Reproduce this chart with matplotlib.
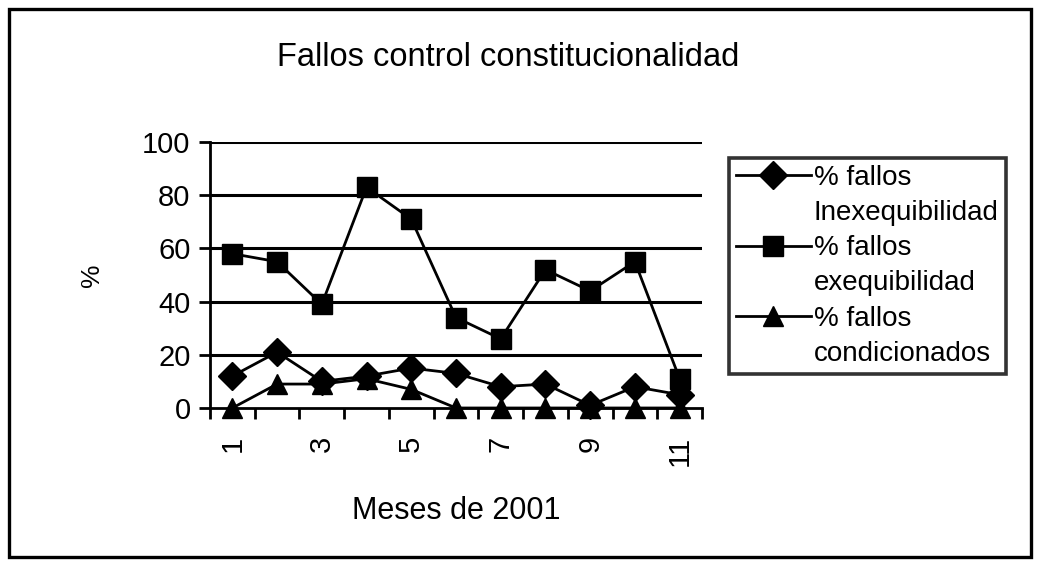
import numpy as np
import matplotlib.pyplot as plt
from matplotlib.lines import Line2D
from matplotlib.patches import Rectangle

plt.rcParams['font.family'] = ['Liberation Sans', 'DejaVu Sans']

# datos
meses = list(range(1, 12))
inexequibilidad = [12, 21, 10, 12, 15, 13, 8, 9, 1, 8, 5]
exequibilidad = [58, 55, 39, 83, 71, 34, 26, 52, 44, 55, 11]
condicionados = [0, 9, 9, 11, 7, 0, 0, 0, 0, 0, 0]
etiquetas = ['% fallos\nInexequibilidad', '% fallos\nexequibilidad', '% fallos\ncondicionados']
yticks = [0, 20, 40, 60, 80, 100]

W, H = 1038, 566
fig = plt.figure(figsize=(W / 100, H / 100), dpi=100)
ax = fig.add_axes([210 / W, 1 - 408 / H, (702 - 210) / W, (408 - 142) / H])

# borde exterior
fig.patches.append(Rectangle((9 / W, 1 - 557 / H), (1031 - 9) / W, (557 - 9) / H,
                             transform=fig.transFigure, fill=False, edgecolor='black', linewidth=2.4))

for y in yticks[1:]:
    ax.axhline(y, color='black', linewidth=2.2, zorder=1)

estilos = [('D', inexequibilidad), ('s', exequibilidad), ('^', condicionados)]
handles = []
for mk, vals in estilos:
    ln, = ax.plot(meses, vals, color='black', linewidth=2.0, marker=mk, markersize=14,
                  clip_on=False, zorder=3)
    handles.append(ln)

ax.set_xlim(0.5, 11.5)
ax.set_ylim(0, 100)
ax.set_yticks(yticks)
ax.tick_params(axis='y', labelsize=21, length=8, width=2, direction='out', pad=6)

# ticks en los limites de cada categoria, etiquetas solo en los impares
ax.set_xticks(np.arange(0.5, 12, 1))
ax.set_xticklabels([])
ax.set_xticks(meses[::2], minor=True)
ax.set_xticklabels([str(m) for m in meses[::2]], minor=True, rotation=90, fontsize=21)
ax.tick_params(axis='x', which='major', length=8, width=2, direction='out')
ax.tick_params(axis='x', which='minor', length=0, pad=20)

for s in ['top', 'right']:
    ax.spines[s].set_visible(False)
for s in ['left', 'bottom']:
    ax.spines[s].set_linewidth(2)

ax.set_xlabel('Meses de 2001', fontsize=22, labelpad=22)
ax.set_ylabel('%', fontsize=19)
ax.yaxis.set_label_coords(-0.215, 0.5)
fig.text(508 / W, 1 - 57 / H, 'Fallos control constitucionalidad', fontsize=23.5,
         ha='center', va='center')

# leyenda: manejador alineado con la primera linea de cada etiqueta
vacio = Line2D([], [], linestyle='none')
leg_h, leg_l = [], []
for h, lab in zip(handles, etiquetas):
    l1, l2 = lab.split('\n')
    leg_h += [h, vacio]
    leg_l += [l1, l2]
leg = fig.legend(leg_h, leg_l, loc='upper left', bbox_to_anchor=(729 / W, 1 - 158 / H),
                 fontsize=20, frameon=True, fancybox=False, handlelength=2.7,
                 handletextpad=0.1, labelspacing=0.33, borderpad=0.25, borderaxespad=0,
                 markerscale=1.0)
leg.get_frame().set_edgecolor('black')
leg.get_frame().set_linewidth(2.6)

fig.savefig('out.png', dpi=100)
